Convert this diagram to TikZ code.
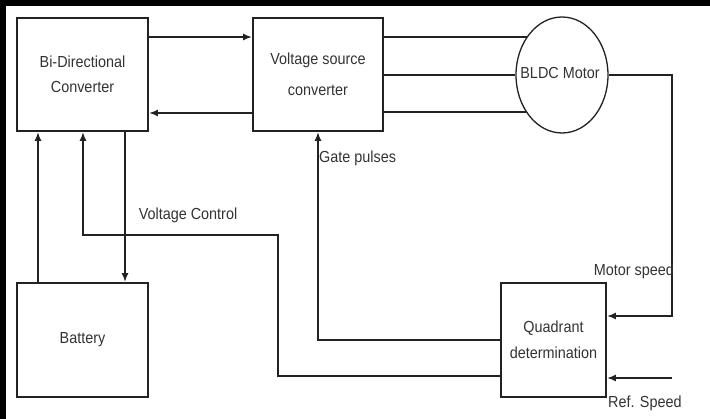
\documentclass[tikz,border=0pt]{standalone}
\usepackage{fontspec}
\setmainfont{Liberation Sans}[FakeStretch=0.9]
\usetikzlibrary{arrows.meta,shapes.geometric}
\definecolor{ln}{HTML}{222222}
\definecolor{tx}{HTML}{333333}
\tikzset{
  blk/.style={draw=ln, line width=1.8pt, rectangle, align=center, text=tx, font=\fontsize{16}{25}\selectfont, inner sep=0pt},
  wire/.style={draw=ln, line width=1.8pt},
  arr/.style={wire, -{Latex[length=9pt,width=7pt]}},
  lbl/.style={text=tx, font=\fontsize{16}{18}\selectfont, inner sep=0pt}
}
\begin{document}
\begin{tikzpicture}[x=1pt,y=-1pt]
\useasboundingbox (0,0) rectangle (710,419);
\fill[white] (0,0) rectangle (710,419);
\fill[black] (0,0) rectangle (710,6);
\fill[black] (0,0) rectangle (6,419);

\node[blk, minimum width=131pt, minimum height=113pt] (bdc) at (82.5,74.5) {Bi-Directional\\Converter};
\node[blk, minimum width=130pt, minimum height=113pt, font=\fontsize{16}{31}\selectfont] (vsc) at (318,74.5) {Voltage source\\converter};
\node[draw=ln, line width=1.3pt, ellipse, minimum width=92pt, minimum height=116pt, inner sep=0pt] (mot) at (562,75) {};
\node[lbl] (motl) at (560,73) {BLDC Motor};
\node[blk, minimum width=131pt, minimum height=114pt] (bat) at (82.5,340) {Battery};
\node[blk, minimum width=105pt, minimum height=114pt, font=\fontsize{16}{26}\selectfont] (qd) at (553.5,340) {Quadrant\\determination};

% coordinates
\coordinate (y37) at (0,37);
\coordinate (y113) at (0,113);
\coordinate (x38) at (38,0);
\coordinate (x83) at (83,0);
\coordinate (x125) at (125,0);
\coordinate (vc) at (278,235);
\coordinate (vq) at (0,376);
\coordinate (ms) at (672,316);
\coordinate (rs) at (672,378);
\coordinate (gp) at (318,340);

% power flow
\draw[arr] (bdc.east |- y37) -- (vsc.west |- y37);
\draw[arr] (vsc.west |- y113) -- (bdc.east |- y113);
\draw[wire] (vsc.east |- mot.133.7) -- (mot.133.7);
\draw[wire] (vsc.east |- mot.west) -- (mot.west);
\draw[wire] (vsc.east |- mot.226.3) -- (mot.226.3);

% battery links
\draw[arr] (bat.north -| x38) -- (bdc.south -| x38);
\draw[arr] (bdc.south -| x125) -- (bat.north -| x125);

% voltage control
\draw[arr] (qd.west |- vq) -| (vc) -| (bdc.south -| x83);

% gate pulses
\draw[arr] (qd.west |- gp) -| (vsc.south);

% motor speed feedback
\draw[arr] (mot.east) -| (ms) -- (qd.east |- ms);
\draw[arr] (rs) -- (qd.east |- rs);

% labels
\node[lbl] (lvc) at (188,215) {Voltage Control};
\node[lbl, anchor=west] (lgp) at (319,158) {Gate pulses};
\node[lbl, anchor=east] (lms) at (674,271) {Motor speed};
\node[lbl, anchor=west] (lrs) at (608,403) {Ref. Speed};
\end{tikzpicture}
\end{document}
